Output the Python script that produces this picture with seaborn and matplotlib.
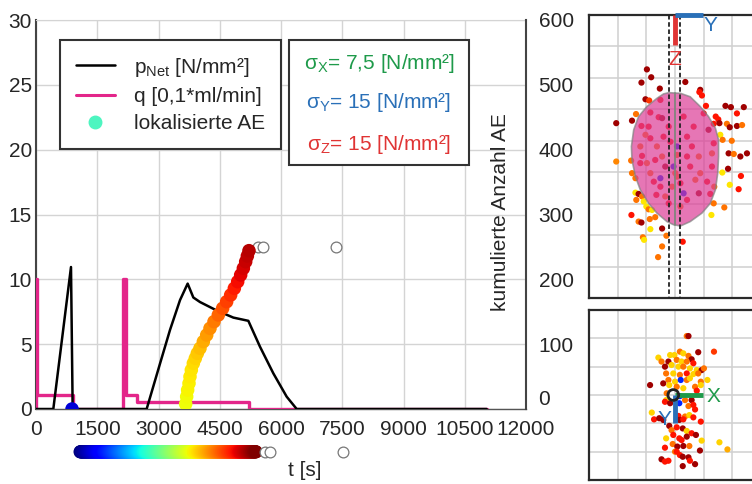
import numpy as np
import pandas as pd
import matplotlib
matplotlib.use("Agg")
import matplotlib.pyplot as plt
import seaborn as sns
from matplotlib.lines import Line2D
from matplotlib.patches import Rectangle

sns.set_style("white")
plt.rcParams['font.family'] = ['Liberation Sans', 'DejaVu Sans']
plt.rcParams['mathtext.fontset'] = 'custom'
plt.rcParams['mathtext.rm'] = 'Liberation Sans'
plt.rcParams['mathtext.it'] = 'Liberation Sans'
plt.rcParams['mathtext.bf'] = 'Liberation Sans:bold'
JET = matplotlib.colormaps["jet"]

# ---------------- data ----------------
# net pressure p_Net [N/mm^2]
p_time = [0, 424, 857, 898, 2710, 3037, 3282, 3527, 3714, 3853, 4016, 4424, 4832, 5200,
          5486, 5812, 6139, 6384, 11036]
p_val = [0, 0, 10.95, 0, 0, 3.5, 6.1, 8.4, 9.67, 8.6, 8.25, 7.6, 7.05, 6.8,
         4.8, 2.75, 0.95, 0, 0]
# flow rate q [0,1*ml/min] (step function)
q_time = [0, 0, 24, 898, 2139, 2197, 2481, 5216, 11036]
q_val = [0, 10, 1.1, 0, 10, 1.1, 0.52, 0, 0]
# cumulative localised AE events
ae_time = [882, 3665, 3690, 3714, 3747, 3771, 3804, 3853, 3902, 3951, 4016, 4098, 4180,
           4261, 4359, 4465, 4571, 4669, 4767, 4857, 4939, 5012, 5078, 5135, 5176, 5216]
ae_count = [0, 7.7, 19.0, 29.3, 39.6, 49.9, 60.2, 70.5, 78.2, 85.9, 93.6, 103.9, 114.1,
            124.4, 134.7, 145.0, 155.3, 165.5, 175.8, 186.1, 196.4, 206.7, 217.0, 227.2,
            236.0, 244.2]
# non-localised events (open circles)
open_time = [5437, 5559, 7347]
open_count = [250, 250, 250]
strip_open_time = [5608, 5731, 7518]
t_min, t_max = 500, 5450

xticks = list(range(0, 12001, 1500))
yticks_left = list(range(0, 31, 5))
yticks_right = list(range(0, 601, 100))

# side view (top panel): horizontal position u, vertical v [grid cells], time t
top_u = [-0.98, -0.83, -1.17, -0.53, 0.36, -1.03, -0.90, 0.88, 0.85, 0.94, 1.08, 1.76, 1.95,
         2.40, 1.42, 1.51, 1.35, 1.55, 1.81, 1.91, 2.16, 2.34, 2.16, -2.05, -1.36, -1.50,
         1.58, 1.66, 1.98, 1.87, 2.05, 2.28, 2.51, -2.05, -1.53, 1.65, 1.85, 2.30, 1.91,
         2.22, -1.50, -1.38, -1.38, -1.27, -1.35, -1.15, -1.09, -1.00, -0.92, -0.80, -1.52,
         -1.27, -1.17, -0.88, -0.69, -0.86, -0.45, -1.12, -1.08, -0.30, -0.45, -0.59, 0.27,
         1.27, 1.35, 1.72, 1.23, 1.37,
         -0.51, -0.86, -0.57, -0.45, -1.17, -0.92, -1.03, -0.86, -1.21, -1.15, -0.98, -0.86,
         -0.74, -0.51, -0.34, -0.65, -0.22, -0.45, -0.34, -0.16, 0.07, -0.05, -0.51, 0.30,
         0.07, 0.07, 0.01, 0.19, 0.42, 0.59, 0.83, 0.53, 0.88, 1.12, 1.29, 1.17, 1.00, 0.83,
         0.42, 0.19, 0.65, 0.30, 1.29, 1.35, -0.22, -1.21, -0.63, -0.40, 0.42, 0.71, -0.10,
         -0.69]
top_v = [-1.73, -1.98, -2.15, -2.34, -2.13, -2.68, -2.72, -2.38, -2.45, -2.56, -2.89, -2.89,
         -2.93, -2.93, -3.23, -3.32, -3.46, -3.44, -3.46, -3.57, -3.53, -3.50, -3.13, -3.44,
         -3.15, -3.36, -3.81, -3.97, -4.00, -4.40, -4.42, -4.50, -4.40, -4.66, -4.63, -5.01,
         -4.89, -5.12, -5.40, -5.54, -5.03, -5.19, -5.65, -5.69, -5.88, -5.77, -5.93, -6.09,
         -6.18, -6.20, -6.36, -6.57, -6.60, -6.49, -6.43, -6.81, -6.79, -7.07, -7.15, -7.02,
         -7.36, -7.70, -7.21, -6.36, -5.99, -6.12, -5.69, -5.46,
         -2.70, -3.10, -3.25, -3.28, -3.53, -3.55, -3.81, -3.92, -4.18, -4.48, -4.71, -5.03,
         -5.30, -5.46, -5.77, -5.72, -5.99, -4.50, -4.82, -4.03, -4.18, -4.82, -5.19, -5.67,
         -4.45, -5.14, -5.03, -5.35, -3.87, -4.18, -4.50, -4.82, -5.03, -5.30, -4.40, -3.65,
         -3.13, -5.67, -5.88, -6.09, -3.55, -3.23, -4.82, -4.08, -3.55, -4.71, -4.18, -3.87,
         -4.50, -5.24, -5.46, -4.61]
top_t = [5300, 5300, 5300, 5300, 5300, 5300, 4700, 5300, 4900, 4900, 4900, 5300, 5300,
         5300, 4900, 4900, 4900, 5300, 4400, 5300, 5300, 4400, 4900, 5300, 4400, 5300,
         3800, 4400, 4400, 5300, 4400, 5300, 5300, 4300, 4400, 3800, 5300, 4900, 3800,
         4900, 4400, 4400, 3800, 5300, 4400, 4400, 3800, 3800, 4400, 3800, 4900,
         4400, 5300, 4400, 4400, 3800, 5300, 4400, 3800, 4400, 4400, 4400, 4900,
         3800, 4400, 4400, 4900, 4400,
         4900, 4900, 4900, 5300, 4900, 4900, 4400, 4900, 4400, 4900, 4400, 4400,
         4900, 4900, 4400, 4900, 4900, 4400, 5300, 4900, 1300, 1300, 1300, 1300,
         4400, 4400, 4400, 4900, 4900, 4900, 4400, 4900, 4400, 4900, 4400, 5300,
         4900, 5300, 4900, 4400, 4900, 4900, 4900, 4900, 4900, 4900, 4400, 4900,
         4900, 4400, 4400, 4900]
# fracture outline (top panel)
blob_u = [-0.22, 0.19, 0.53, 0.88, 1.17, 1.41, 1.52, 1.52, 1.49, 1.41, 1.23, 0.94, 0.53, 0.19,
          -0.05, -0.28, -0.63, -0.92, -1.21, -1.38, -1.50, -1.52, -1.44, -1.27, -0.98, -0.63,
          -0.40]
blob_v = [-2.47, -2.49, -2.60, -2.91, -3.23, -3.60, -3.97, -4.50, -5.03, -5.56, -5.99, -6.30,
          -6.57, -6.71, -6.67, -6.57, -6.30, -5.99, -5.56, -5.14, -4.61, -4.18, -3.65, -3.23,
          -2.91, -2.65, -2.51]

# plan view (bottom panel)
bot_u = [0.41, 0.47, 0.81, 1.36, -0.58, -0.17, -0.02, 0.17, 0.29, 0.47, 0.58, -0.47, -0.23,
         0.06, 0.23, 0.41, 0.64, -0.35, -0.12, 0.12, 0.29, 0.52, 0.76, 0.93, 1.01, -0.31,
         -0.06, 0.17, 0.41, 0.64, 0.81, -0.23, 0.00, 0.20, 0.41, 0.52, 0.90, 1.13, -0.87,
         -0.41, -0.20, 0.06, 0.29, 0.70, 0.90, -0.29, 0.17, 0.35, 0.58, 0.76, -0.31, -0.35,
         -0.17, 0.15, 0.47, 0.64, 0.70, -0.81, -0.73, -0.55, -0.41, 0.12, 0.35, 0.50, 0.15,
         0.29, 0.64, 0.90, -0.20, -0.12, 0.06, 0.27, 0.41, 0.58, 0.73, -0.31, -0.06, 0.15,
         0.23, 0.41, 0.93, 1.55, 1.83, -0.35, -0.08, 0.08, 0.29, 0.50, 0.87, 0.00, 0.17,
         0.27, 0.47, -0.47, -0.35, -0.23, 0.52, 0.70, 0.27, 0.06]
bot_w = [2.08, 2.08, 1.51, 1.53, 1.32, 1.41, 1.41, 1.53, 1.47, 1.38, 1.26, 1.18, 1.18, 1.24,
         1.18, 1.18, 1.12, 1.00, 1.06, 1.00, 1.00, 0.94, 0.88, 0.88, 0.94, 0.76, 0.76, 0.71,
         0.76, 0.74, 0.76, 0.53, 0.47, 0.53, 0.53, 0.59, 0.47, 0.53, 0.35, 0.41, 0.35, 0.29,
         0.24, 0.29, 0.35, 0.06, -0.04, -0.18, -0.18, 0.15, -0.18, -0.24, -0.29, -0.29,
         -0.39, -0.35, -0.51, -0.62, -0.86, -0.82, -0.88, -0.74, -0.76, -0.71, -0.88, -0.86,
         -0.79, -0.94, -1.09, -1.24, -1.14, -1.18, -1.27, -1.35, -1.41, -1.53, -1.41, -1.53,
         -1.59, -1.47, -1.61, -1.67, -1.92, -1.86, -1.73, -1.82, -1.80, -1.80, -1.96, -2.00,
         -2.12, -2.18, -2.20, -2.27, -2.35, -2.32, -2.32, -2.44, -2.51, -2.00]
bot_t = [4400, 5300, 5300, 4700, 3900, 3900, 3900, 4400, 3900, 4400, 5300, 4400, 5300,
         4400, 3900, 4400, 4900, 5300, 3900, 3900, 4400, 3900, 3900, 5300, 4400, 4400,
         3900, 4400, 4900, 3900, 4400, 4400, 3900, 1300, 4400, 3900, 4400, 3900, 5300,
         5300, 3900, 4400, 3900, 4400, 3900, 4400, 1300, 4400, 5300, 4900, 3900, 4900,
         5300, 1300, 4400, 4900, 4900, 3900, 4900, 5300, 5300, 4900, 4400, 3900, 5300,
         4900, 4900, 4900, 5300, 4400, 4900, 5300, 3900, 4900, 5300, 3900, 4900, 4900,
         4900, 5300, 3900, 3900, 4100, 4900, 4400, 5300, 5300, 4400, 5300, 4400, 4900,
         5300, 5300, 5300, 4900, 4900, 4900, 5300, 5300, 4900]

PINK = "#E3268A"
FS = 15

# ---------------- figure ----------------
fig = plt.figure(figsize=(7.52, 4.84), dpi=100)
W, H = 752, 484
ax = fig.add_axes([36 / W, 1 - 409 / H, 490 / W, 389 / H])

sns.lineplot(x=q_time, y=q_val, ax=ax, color=PINK, lw=2.4, drawstyle="steps-post",
             sort=False, estimator=None, zorder=3)
sns.lineplot(x=p_time, y=p_val, ax=ax, color="black", lw=1.8, sort=False,
             estimator=None, zorder=4)

ax.set_xlim(0, 12000)
ax.set_ylim(0, 30)
ax.set_xticks(xticks)
ax.set_yticks(yticks_left)
ax.grid(True, color="#D4D4D4", lw=1)
ax.set_axisbelow(True)
ax.tick_params(axis="both", labelsize=FS, length=0)
ax.tick_params(axis="y", pad=3)
ax.tick_params(axis="x", pad=8)
ax.spines["left"].set_color("#444444")
ax.spines["left"].set_linewidth(1.5)
ax.spines["top"].set_color("#D4D4D4")
ax.spines["bottom"].set_color("#555555")
ax.spines["bottom"].set_linewidth(1.0)
ax.spines["right"].set_visible(False)
ax.set_xlabel("")
ax.set_ylabel("")
ax.text(0.549, -0.157, "t [s]", transform=ax.transAxes, fontsize=FS, ha="center",
        va="center")

# colour key strip below the axis
strip_x = np.arange(1080, 5391, 10)
ax.scatter(strip_x, np.full(strip_x.shape, -3.3), c=strip_x, cmap=JET, s=90,
           linewidths=0, clip_on=False, zorder=5)
ax.scatter(strip_open_time, [-3.3] * 3, s=60, facecolors="white", edgecolors="#777777",
           linewidths=0.9, clip_on=False, zorder=6)

# right axis
ax2 = ax.twinx()
ax2.set_ylim(0, 600)
ax2.set_yticks(yticks_right)
ax2.tick_params(axis="y", labelsize=FS, length=0, pad=9)
ax2.spines["right"].set_color("#444444")
ax2.spines["right"].set_linewidth(1.5)
for s in ["left", "top", "bottom"]:
    ax2.spines[s].set_visible(False)
ax2.grid(False)
sns.scatterplot(x=ae_time, y=ae_count, hue=ae_time, palette=JET, hue_norm=(t_min, t_max),
                s=95, linewidth=0, legend=False, ax=ax2, zorder=6)
ax2.scatter(open_time, open_count, s=60, facecolors="white", edgecolors="#777777",
            linewidths=0.9, zorder=5)
ax2.set_ylabel("")
ax2.text(0.947, 0.506, "kumulierte Anzahl AE", transform=ax.transAxes, rotation=90,
         fontsize=FS, ha="center", va="center")
fig.canvas.draw()
ax2.get_yticklabels()[0].set_va("bottom")

# legend
handles = [Line2D([], [], color="black", lw=1.8),
           Line2D([], [], color=PINK, lw=2.2),
           Line2D([], [], ls="none", marker="o", markersize=9, color="#4DF5C0")]
labels = [r"p$_{\mathregular{Net}}$ [N/mm²]", "q [0,1*ml/min]", "lokalisierte AE"]
leg = ax2.legend(handles, labels, loc="upper left", bbox_to_anchor=(0.049, 0.9486),
                 bbox_transform=ax.transAxes, frameon=True, fancybox=False,
                 edgecolor="#333333", framealpha=1, fontsize=FS, borderpad=0.75,
                 handlelength=1.9, labelspacing=0.4, handletextpad=0.9, borderaxespad=0)
leg.get_frame().set_linewidth(1.5)

# stress box
ax2.add_patch(Rectangle((0.516, 0.627), 0.368, 0.3216, transform=ax.transAxes,
                        facecolor="white", edgecolor="#333333", lw=1.5, zorder=7))
stress = [("σ$_{\\mathregular{X}}$= 7,5 [N/mm²]", "#1E9A4A", 0.889),
          ("σ$_{\\mathregular{Y}}$= 15 [N/mm²]", "#2A70B8", 0.787),
          ("σ$_{\\mathregular{Z}}$= 15 [N/mm²]", "#E03434", 0.679)]
for txt, col, yy in stress:
    ax2.text(0.70, yy, txt, transform=ax.transAxes, color=col, fontsize=FS,
             ha="center", va="center", zorder=8)

# ---------------- side panels ----------------
def panel(rect, ylim, xt, yt):
    a = fig.add_axes(rect)
    a.set_xlim(-3, 3)
    a.set_ylim(*ylim)
    a.set_xticks(xt)
    a.set_yticks(yt)
    a.set_xticklabels([])
    a.set_yticklabels([])
    a.tick_params(length=0)
    a.grid(True, color="#D0D0D0", lw=1.1)
    a.set_axisbelow(True)
    for s in a.spines.values():
        s.set_color("#2A2A2A")
        s.set_linewidth(1.6)
    return a

axT = panel([589 / W, 1 - 298 / H, 172 / W, 283 / H], (-9, 0), [-2, -1, 0, 1, 2],
            list(range(-8, 0)))
sns.scatterplot(x=top_u, y=top_v, hue=top_t, palette=JET, hue_norm=(t_min, t_max),
                s=20, linewidth=0, legend=False, ax=axT, zorder=3)
axT.fill(blob_u, blob_v, facecolor="#DC3C96", alpha=0.7, edgecolor="#808080", lw=1.2,
         zorder=4)
axT.plot([0, 0], [-2.49, -6.69], color="#7A8A7A", lw=1.2, zorder=5)
for xx in [-0.2, 0.19]:
    axT.plot([xx, xx], [0, -9], color="#222222", lw=1.3, ls=(0, (2.5, 1.5)), zorder=5)
axT.plot([0, 0], [0, -0.95], color="#E03434", lw=3.5, zorder=6, clip_on=False,
         solid_capstyle="butt")
axT.plot([0, 0.98], [0, 0], color="#2A70B8", lw=3.5, zorder=6, clip_on=False,
         solid_capstyle="butt")
axT.text(0, -1.43, "Z", color="#E03434", fontsize=FS, ha="center", va="center", zorder=7)
axT.text(1.25, -0.32, "Y", color="#2A70B8", fontsize=FS, ha="center", va="center", zorder=7)
axT.set_xlabel("")
axT.set_ylabel("")

axB = panel([589 / W, 1 - 480 / H, 172 / W, 170 / H], (-3, 3), [-2, -1, 0, 1, 2],
            [-2, -1, 0, 1, 2])
sns.scatterplot(x=bot_u, y=bot_w, hue=bot_t, palette=JET, hue_norm=(t_min, t_max),
                s=20, linewidth=0, legend=False, ax=axB, zorder=3)
axB.plot([0, 0.97], [0, 0], color="#1E9A4A", lw=3.5, zorder=5, solid_capstyle="butt")
axB.plot([0, 0], [0, -1.0], color="#2A70B8", lw=3.5, zorder=5, solid_capstyle="butt")
axB.scatter([-0.06], [0], s=60, facecolors="none", edgecolors="#222222", linewidths=2,
            zorder=6)
axB.text(1.34, -0.04, "X", color="#1E9A4A", fontsize=FS, ha="center", va="center", zorder=7)
axB.text(-0.37, -0.85, "Y", color="#2A70B8", fontsize=FS, ha="center", va="center",
         zorder=7)
axB.set_xlabel("")
axB.set_ylabel("")

fig.savefig("out.png", dpi=100)
